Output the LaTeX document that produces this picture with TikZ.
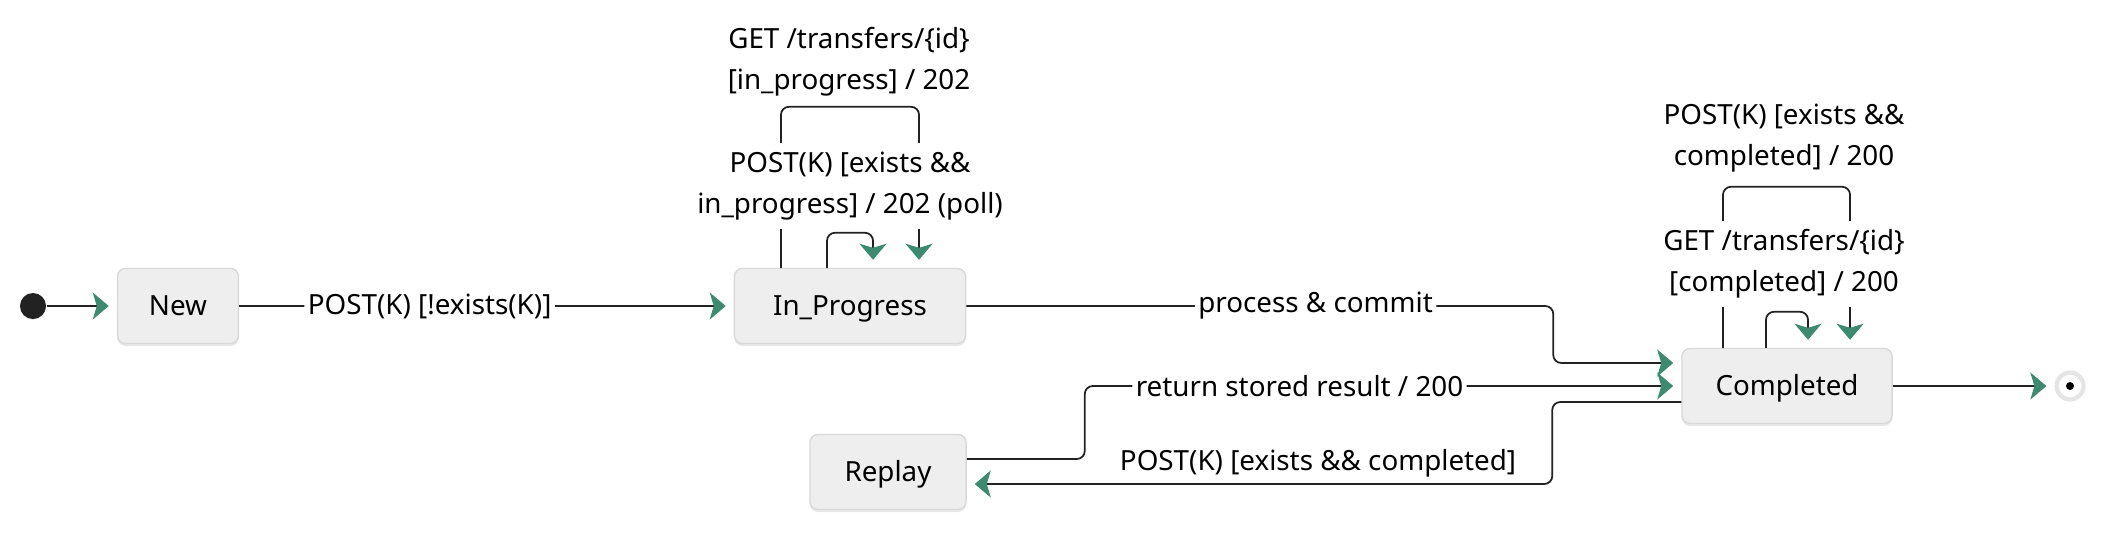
\documentclass[tikz,border=0pt]{standalone}
\usepackage{fontspec}
\setmainfont{Noto Sans}
\usetikzlibrary{arrows.meta,shadows}
\definecolor{stgreen}{HTML}{3D8A70}
\definecolor{stfill}{HTML}{EEEEEE}
\definecolor{stedge}{HTML}{D9D9D9}
\definecolor{stink}{HTML}{222222}

\begin{document}
\begin{tikzpicture}[x=0.01cm,y=-0.01cm,
  font=\fontsize{7.9}{11.7}\selectfont,
  state/.style={draw=stedge,fill=stfill,rounded corners=0.08cm,minimum height=0.75cm,inner sep=0pt,
    text depth=0.5pt,drop shadow={shadow xshift=0cm,shadow yshift=-0.025cm,opacity=0.18}},
  trans/.style={draw=stink,line width=0.5pt,rounded corners=0.08cm,shorten >=0.08cm,
    -{Stealth[length=0.16cm,width=0.27cm,inset=0.04cm,color=stgreen]}},
  lbl/.style={fill=white,inner xsep=1pt,inner ysep=2.4pt,align=center}]
  \useasboundingbox (0,0) rectangle (2103,542);
  \node[circle,fill=stink,minimum size=0.26cm,inner sep=0pt,
    drop shadow={shadow xshift=0cm,shadow yshift=-0.01cm,opacity=0.15}] (init) at (33,306) {};
  \node[state,minimum width=1.21cm] (new) at (178,306) {New};
  \node[state,minimum width=2.31cm] (ip) at (850,306) {In\_Progress};
  \node[state,minimum width=2.10cm] (done) at (1787,386) {Completed};
  \node[state,minimum width=1.56cm] (rep) at (888,472) {Replay};
  \node[circle,fill=white,draw=black!10,line width=1.2pt,minimum size=0.27cm,inner sep=0pt] (fin) at (2070,386) {};
  \fill[black] (fin) circle[radius=0.04cm];

  \draw[trans] (init) -- (new);
  \draw[trans] (new) -- node[lbl,pos=0.385]{POST(K) [!exists(K)]} (ip);
  \draw[trans] (ip.east) -- node[lbl,pos=0.595]{process \& commit} ++(587,0) |- ([yshift=0.23cm]done.west);
  \draw[trans] ([yshift=0.13cm]rep.east) -- ++(118,0) |- node[lbl,pos=0.68]{return stored result / 200} (done.west);
  \draw[trans] ([yshift=-0.16cm]done.west) -- ++(-129,0) |- node[pos=0.70,yshift=0.21cm]{POST(K) [exists \&\& completed]} ([yshift=-0.12cm]rep.east);
  \draw[trans] (done.east) -- (fin.west);

  \draw[trans] ([xshift=-0.69cm]ip.north) -- ++(0,-161) -| ([xshift=0.69cm]ip.north);
  \draw[trans] ([xshift=-0.23cm]ip.north) -- ++(0,-35) -| ([xshift=0.23cm]ip.north);
  \node[lbl] (ipget) at (849,62) {GET /transfers/\{id\}\\ {[in\_progress] / 202}};
  \node[lbl] (ippoll) at (850,186) {POST(K) [exists \&\&\\ in\_progress] / 202 (poll)};

  \draw[trans] ([xshift=-0.64cm]done.north) -- ++(0,-161) -| ([xshift=0.63cm]done.north);
  \draw[trans] ([xshift=-0.21cm]done.north) -- ++(0,-36) -| ([xshift=0.21cm]done.north);
  \node[lbl] (donepost) at (1784,138) {POST(K) [exists \&\&\\ completed] / 200};
  \node[lbl] (doneget) at (1784,264) {GET /transfers/\{id\}\\ {[completed] / 200}};
\end{tikzpicture}
\end{document}
